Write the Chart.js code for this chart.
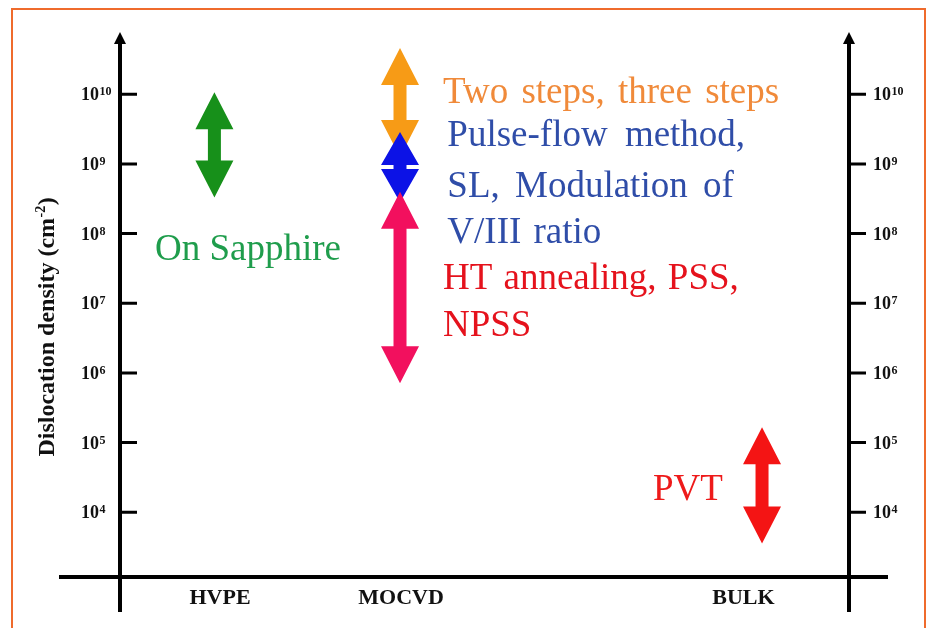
<!DOCTYPE html>
<html><head><meta charset="utf-8">
<script src="https://cdn.jsdelivr.net/npm/chart.js@4/dist/chart.umd.min.js"></script>
<style>html,body{margin:0;padding:0;background:#fff;overflow:hidden}</style>
</head><body><canvas id="c" width="933" height="628"></canvas>
<script>
// ---- data ----
const categories = ['HVPE', 'MOCVD', 'BULK'];
const categoryX = [1.372, 3.855, 8.552];
const tickExponents = [4, 5, 6, 7, 8, 9, 10];
const arrowNames = ['On Sapphire', 'Two steps, three steps', 'Pulse-flow / SL / V/III', 'HT annealing, PSS, NPSS', 'PVT'];
const arrowX = [1.295, 3.841, 3.841, 3.841, 8.807];
const arrowHigh = [1.07e10, 4.62e10, 2.88e9, 3.98e8, 1.66e5];
const arrowLow = [3.31e8, 1.26e9, 2.82e8, 7.08e5, 3.55e3];
const noteTexts = ['On Sapphire', 'Two steps, three steps', 'Pulse-flow method,', 'SL, Modulation of', 'V/III ratio', 'HT annealing, PSS,', 'NPSS', 'PVT'];
const noteX = [0.48, 4.43, 4.49, 4.49, 4.49, 4.43, 4.43, 7.31];
const noteY = [4.17e7, 7.50e9, 1.81e9, 3.39e8, 7.24e7, 1.58e7, 3.39e6, 1.50e4];
const yAxisTitle = ['Dislocation density (cm', '-2', ')'];

// ---- styles ----
const arrowColors = ['#17901a', '#f79b16', '#0c12e6', '#f2105e', '#f41414'];
const noteColors = ['#1f9d4c', '#f08a3a', '#2f4da8', '#2f4da8', '#2f4da8', '#e5121c', '#e5121c', '#ee1a1a'];
const noteWordSpacing = [0, 4, 8, 6, 3, 2, 0, 0];
const SERIF = '"Liberation Serif", "Times New Roman", serif';

const datasets = arrowNames.map((n, i) => ({
  label: n,
  data: [{x: arrowX[i], y: arrowLow[i]}, {x: arrowX[i], y: arrowHigh[i]}],
  showLine: false, pointRadius: 0, pointHoverRadius: 0,
  borderColor: arrowColors[i], backgroundColor: arrowColors[i]
}));

function dblArrow(ctx, x, yTop, yBot, color) {
  const L = yBot - yTop;
  const hl = Math.min(37, (L - 4) / 2), hh = 19, hs = 6.5;
  ctx.beginPath();
  ctx.moveTo(x, yTop);
  ctx.lineTo(x + hh, yTop + hl); ctx.lineTo(x + hs, yTop + hl);
  ctx.lineTo(x + hs, yBot - hl); ctx.lineTo(x + hh, yBot - hl);
  ctx.lineTo(x, yBot);
  ctx.lineTo(x - hh, yBot - hl); ctx.lineTo(x - hs, yBot - hl);
  ctx.lineTo(x - hs, yTop + hl); ctx.lineTo(x - hh, yTop + hl);
  ctx.closePath();
  ctx.fillStyle = color; ctx.fill();
}

function powLabel(ctx, x, y, exp) {
  ctx.fillStyle = '#111';
  ctx.textAlign = 'left'; ctx.textBaseline = 'alphabetic';
  ctx.font = 'bold 18px ' + SERIF;
  ctx.fillText('10', x, y + 6);
  const w = ctx.measureText('10').width;
  ctx.font = 'bold 12px ' + SERIF;
  ctx.fillText(String(exp), x + w + 0.5, y + 1);
}

const drawPlugin = {
  id: 'drawing',
  beforeDraw(chart) {
    const ctx = chart.ctx;
    ctx.save();
    ctx.fillStyle = '#fff';
    ctx.fillRect(0, 0, chart.width, chart.height);
    ctx.strokeStyle = '#ef6b2c'; ctx.lineWidth = 2;
    ctx.strokeRect(12, 9, 913, 700);
    ctx.restore();
  },
  afterDatasetsDraw(chart) {
    const ctx = chart.ctx, xs = chart.scales.x, ys = chart.scales.y, ca = chart.chartArea;
    ctx.save();
    // axes
    ctx.strokeStyle = '#000'; ctx.fillStyle = '#000'; ctx.lineWidth = 4; ctx.lineCap = 'butt';
    ctx.beginPath();
    ctx.moveTo(ca.left, ca.top + 8); ctx.lineTo(ca.left, ca.bottom + 35);
    ctx.moveTo(ca.right, ca.top + 8); ctx.lineTo(ca.right, ca.bottom + 35);
    ctx.moveTo(ca.left - 61, ca.bottom); ctx.lineTo(ca.right + 39, ca.bottom);
    ctx.stroke();
    [ca.left, ca.right].forEach(ax => {
      ctx.beginPath();
      ctx.moveTo(ax, ca.top); ctx.lineTo(ax + 6, ca.top + 12); ctx.lineTo(ax - 6, ca.top + 12);
      ctx.closePath(); ctx.fill();
    });
    // ticks + labels
    ctx.lineWidth = 3;
    tickExponents.forEach(e => {
      const y = ys.getPixelForValue(Math.pow(10, e));
      ctx.beginPath();
      ctx.moveTo(ca.left, y); ctx.lineTo(ca.left + 17, y);
      ctx.moveTo(ca.right, y); ctx.lineTo(ca.right + 17, y);
      ctx.stroke();
      powLabel(ctx, ca.left - 39, y, e);
      powLabel(ctx, ca.right + 24, y, e);
    });
    // arrows
    chart.data.datasets.forEach((ds, i) => {
      const x = xs.getPixelForValue(ds.data[0].x);
      const yb = ys.getPixelForValue(ds.data[0].y);
      const yt = ys.getPixelForValue(ds.data[1].y);
      dblArrow(ctx, x, yt, yb, arrowColors[i]);
    });
    // notes
    ctx.textAlign = 'left'; ctx.textBaseline = 'alphabetic';
    ctx.font = '37px ' + SERIF;
    noteTexts.forEach((t, i) => {
      ctx.fillStyle = noteColors[i];
      if ('wordSpacing' in ctx) ctx.wordSpacing = noteWordSpacing[i] + 'px';
      ctx.fillText(t, xs.getPixelForValue(noteX[i]), ys.getPixelForValue(noteY[i]));
    });
    if ('wordSpacing' in ctx) ctx.wordSpacing = '0px';
    // categories
    ctx.fillStyle = '#111'; ctx.textAlign = 'center';
    ctx.font = 'bold 22px ' + SERIF;
    categories.forEach((c, i) => {
      ctx.fillText(c, xs.getPixelForValue(categoryX[i]), ca.bottom + 27);
    });
    // y axis title
    ctx.save();
    ctx.translate(54, ys.getPixelForValue(Math.pow(10, 6.66)));
    ctx.rotate(-Math.PI / 2);
    ctx.textAlign = 'left';
    ctx.font = 'bold 24px ' + SERIF;
    const w0 = ctx.measureText(yAxisTitle[0]).width;
    ctx.font = 'bold 14px ' + SERIF;
    const w1 = ctx.measureText(yAxisTitle[1]).width;
    ctx.font = 'bold 24px ' + SERIF;
    const w2 = ctx.measureText(yAxisTitle[2]).width;
    const tw = w0 + w1 + 1 + w2;
    let sx = -tw / 2;
    ctx.fillText(yAxisTitle[0], sx, 0);
    ctx.font = 'bold 14px ' + SERIF;
    ctx.fillText(yAxisTitle[1], sx + w0 + 0.5, -9);
    ctx.font = 'bold 24px ' + SERIF;
    ctx.fillText(yAxisTitle[2], sx + w0 + w1 + 1, 0);
    ctx.restore();
    ctx.restore();
  }
};

new Chart(document.getElementById('c'), {
  type: 'scatter',
  data: { datasets },
  options: {
    responsive: false, animation: false,
    layout: { padding: { left: 120, right: 84, top: 32, bottom: 51 } },
    plugins: { legend: { display: false }, tooltip: { enabled: false } },
    events: [],
    scales: {
      x: { type: 'linear', min: 0, max: 10, display: false },
      y: { type: 'logarithmic', min: Math.pow(10, 3.07), max: Math.pow(10, 10.894), display: false }
    }
  },
  plugins: [drawPlugin]
});
</script></body></html>
